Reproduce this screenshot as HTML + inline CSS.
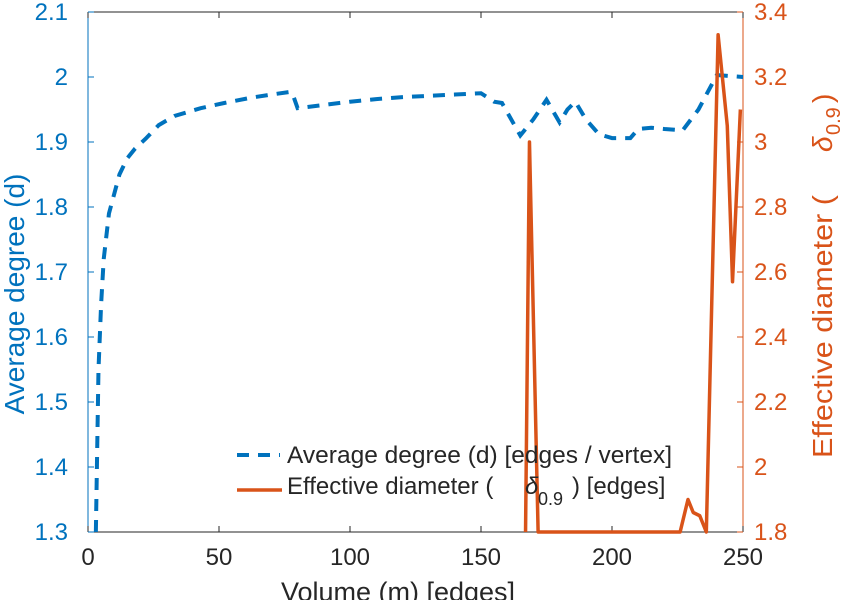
<!DOCTYPE html>
<html><head><meta charset="utf-8"><style>
body{margin:0;background:#fff;}
svg text{font-family:"Liberation Sans",sans-serif;white-space:pre;}
</style></head><body>
<svg id="chart" width="847" height="600" xmlns="http://www.w3.org/2000/svg"></svg>
<script>
const xVals=[3,4,5,6,8,10,12,15,18,22,27,33,43,52,62,70,77,78,80,90,100,110,120,130,140,150,155,158,165,170,175,180,183,186,190,195,200,207,210,215,220,227,233,240,250];
const degVals=[1.3,1.55,1.65,1.72,1.79,1.82,1.85,1.875,1.89,1.905,1.926,1.94,1.952,1.96,1.968,1.973,1.977,1.975,1.952,1.957,1.962,1.966,1.969,1.971,1.973,1.975,1.962,1.96,1.91,1.935,1.965,1.93,1.95,1.962,1.935,1.912,1.906,1.906,1.92,1.922,1.92,1.918,1.95,2.003,2.0];
const diaX=[167,168.5,171.8,226,229,231,233.5,236,240.5,244,246,249];
const diaVals=[1.8,3.0,1.8,1.8,1.9,1.86,1.85,1.8,3.33,3.05,2.57,3.1];
const xTicks=[0,50,100,150,200,250];
const yLeftTicks=[1.3,1.4,1.5,1.6,1.7,1.8,1.9,2,2.1];
const yRightTicks=[1.8,2,2.2,2.4,2.6,2.8,3,3.2,3.4];
const L=88,R=743,T=12,B=532;
const X=v=>L+(v-0)/250*(R-L);
const YL=v=>B-(v-1.3)/0.8*(B-T);
const YR=v=>B-(v-1.8)/1.6*(B-T);
const svg=document.getElementById('chart');
const NS='http://www.w3.org/2000/svg';
function mk(tag,attrs,txt,parent){const e=document.createElementNS(NS,tag);for(const k in attrs)e.setAttribute(k,attrs[k]);if(txt!==undefined)e.textContent=txt;(parent||svg).appendChild(e);return e;}
const blue='#0072bd',orange='#d95319',dark='#262626';
let e;
e=mk('line',{x1:L,y1:T,x2:R,y2:T,stroke:dark,'stroke-width':1});


e=mk('line',{x1:L,y1:B,x2:R,y2:B,stroke:dark,'stroke-width':1});


e=mk('line',{x1:L,y1:T,x2:L,y2:B,stroke:blue,'stroke-width':1});


e=mk('line',{x1:R,y1:T,x2:R,y2:B,stroke:orange,'stroke-width':1});


xTicks.forEach(v=>{
  mk('line',{x1:X(v),y1:B,x2:X(v),y2:B-6,stroke:dark});
  mk('line',{x1:X(v),y1:T,x2:X(v),y2:T+6,stroke:dark});
  e=mk('text',{x:X(v),y:B+33,'text-anchor':'middle','font-size':24,fill:dark},String(v));
  
  
});
yLeftTicks.forEach(v=>{
  mk('line',{x1:L,y1:YL(v),x2:L+6,y2:YL(v),stroke:blue});
  e=mk('text',{x:L-20,y:YL(v)+8,'text-anchor':'end','font-size':24,fill:blue},String(v));
  
  
});
yRightTicks.forEach(v=>{
  mk('line',{x1:R,y1:YR(v),x2:R-6,y2:YR(v),stroke:orange});
  e=mk('text',{x:R+11,y:YR(v)+8,'text-anchor':'start','font-size':24,fill:orange},String(v));
  
  
});
e=mk('path',{d:xVals.map((v,i)=>(i?'L':'M')+X(v)+','+YL(degVals[i])).join(''),fill:'none',stroke:blue,'stroke-width':4,'stroke-dasharray':'12,9'});


e=mk('path',{d:diaX.map((v,i)=>(i?'L':'M')+X(v)+','+YR(diaVals[i])).join(''),fill:'none',stroke:orange,'stroke-width':3.5,'stroke-linejoin':'round'});


e=mk('text',{x:398,y:601,'text-anchor':'middle','font-size':27,fill:dark},'Volume (m) [edges]');


e=mk('text',{x:0,y:0,transform:'translate(24,294) rotate(-90)','text-anchor':'middle','font-size':28,fill:blue},'Average degree (d)');


const g=mk('g',{transform:'translate(832,0) rotate(-90)'});
e=mk('text',{x:-458,y:0,'font-size':28,fill:orange,textLength:263,lengthAdjust:'spacingAndGlyphs'},'Effective diameter (');
g.appendChild(e);


e=mk('text',{x:-152,y:0,'font-size':28,'font-style':'italic',fill:orange},'δ',g);


e=mk('text',{x:-135,y:8,'font-size':20,fill:orange},'0.9',g);


e=mk('text',{x:-103,y:0,'font-size':28,fill:orange},')',g);


e=mk('line',{x1:237,y1:455,x2:280,y2:455,stroke:blue,'stroke-width':4,'stroke-dasharray':'12,9'});


e=mk('text',{x:287,y:463,'font-size':24,fill:dark,textLength:385,lengthAdjust:'spacingAndGlyphs'},'Average degree (d) [edges / vertex]');


e=mk('line',{x1:237,y1:490,x2:282,y2:490,stroke:orange,'stroke-width':3.5});


e=mk('text',{x:287,y:494,'font-size':24,fill:dark},'Effective diameter (');


e=mk('text',{x:525,y:494,'font-size':24,'font-style':'italic',fill:dark},'δ');


e=mk('text',{x:538,y:505,'font-size':18,fill:dark},'0.9');


e=mk('text',{x:572,y:494,'font-size':24,fill:dark},') [edges]');


</script>
</body></html>
